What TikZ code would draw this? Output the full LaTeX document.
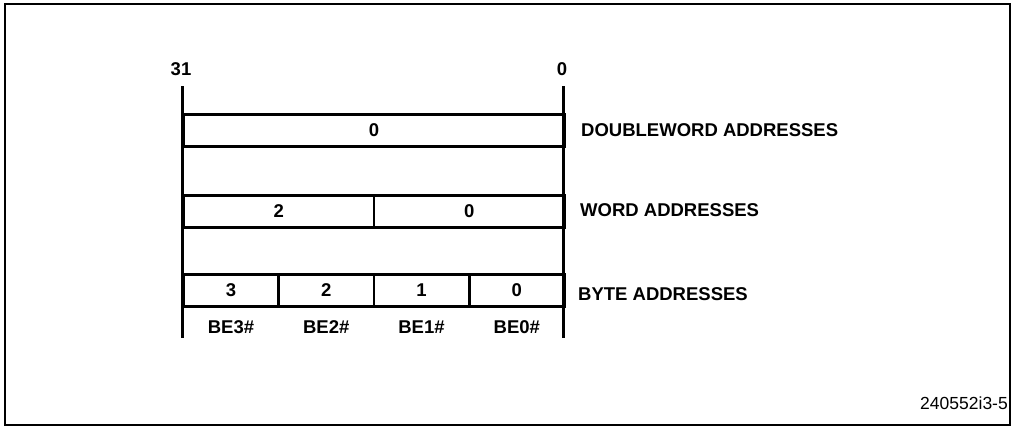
\documentclass[tikz,border=0pt]{standalone}
\usepackage{fontspec}
\setmainfont{Liberation Sans}
\usetikzlibrary{positioning}

\begin{document}
\begin{tikzpicture}[
  x=1pt, y=1pt,
  font=\bfseries\fontsize{18.5}{20}\selectfont,
  cell/.style ={draw, line width=2.8pt, inner sep=0pt, minimum height=32pt},
  rail/.style ={line width=3pt},
  lbl/.style  ={anchor=west, inner sep=0pt},
  be/.style   ={inner sep=0pt}
]
\useasboundingbox (0,0) rectangle (1014,-429);
\draw[line width=1.4pt] (5,-4) rectangle (1010,-425);

% bit rails
\coordinate (lt) at (182,-86);
\coordinate (lb) at (182,-338);
\coordinate (rt) at (563,-86);
\coordinate (rb) at (563,-338);
\node[be] (b31) at (181,-69) {31};
\node[be] (b0)  at (562,-69) {0};

% address rows
\node[cell, minimum width=381pt, anchor=north west] (dw) at (182,-113) {0};
\node[cell, minimum width=190.5pt, anchor=north west] (w2) at (182,-194) {2};
\node[cell, minimum width=190.5pt, anchor=north west] (w0) at (372.5,-194) {0};
\foreach \i/\n in {0/3, 1/2, 2/1, 3/0}
  \node[cell, minimum width=95.25pt, anchor=north west] (by\n) at (182+95.25*\i,-273) {\n};

\draw[rail] (lt) -- (lb);
\draw[rail] (rt) -- (rb);

\node[lbl] (dwl) at (581,-130) {DOUBLEWORD ADDRESSES};
\node[lbl] (wl)  at (580,-210) {WORD ADDRESSES};
\node[lbl] (byl) at (578,-294) {BYTE ADDRESSES};

% byte enables
\foreach \n in {3,2,1,0}
  \node[be, below=13pt of by\n] (be\n) {BE\n\#};

\node[anchor=east, inner sep=0pt, font=\fontsize{17.5}{19}\selectfont] (fig) at (1008,-403) {240552i3-5};
\end{tikzpicture}
\end{document}
